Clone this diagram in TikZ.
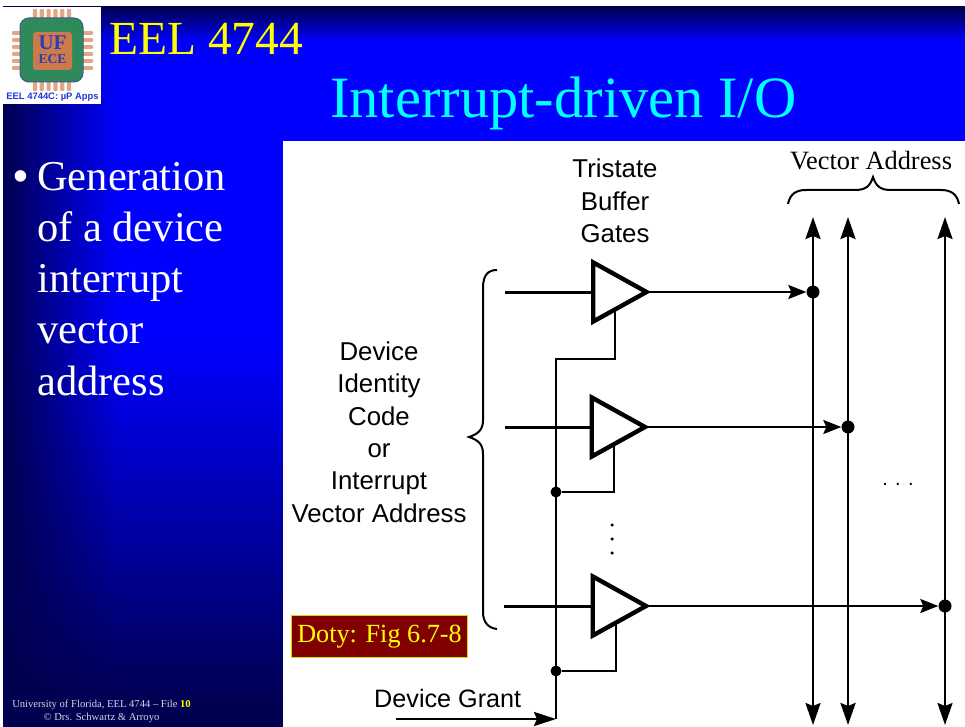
\documentclass[tikz,border=0pt]{standalone}
\usepackage{fontspec}
\setmainfont{Liberation Serif}
\newfontfamily\figfont{Liberation Sans}
\usetikzlibrary{shapes.geometric, arrows.meta, fadings}
\definecolor{slideNavy}{HTML}{000050}
\definecolor{slideBlue}{HTML}{0000FF}
\definecolor{titleCyan}{HTML}{00FFFF}
\definecolor{titleYellow}{HTML}{FFFF00}
\definecolor{footGray}{HTML}{D4D4E4}
\definecolor{tagRed}{HTML}{800000}
\definecolor{logoGreen}{HTML}{2F8A5B}
\definecolor{logoEdge}{HTML}{3D5C8C}
\definecolor{logoOrange}{HTML}{CC7A4C}
\definecolor{logoPin}{HTML}{E3A583}
\definecolor{logoBlue}{HTML}{2A3FB0}
\definecolor{logoText}{HTML}{1F35E0}

\begin{document}
\begin{tikzpicture}[
    x=1pt, y=-1pt,
    % Text Styles
    slideText/.style={
        font=\fontsize{42.5}{51.2}\selectfont,
        text=white,
        align=left,
        anchor=base west,
        inner sep=0pt
    },
    figLabel/.style={
        font=\fontsize{25.8}{32.4}\selectfont\figfont,
        align=center,
        inner sep=0pt
    },
    serifLabel/.style={
        font=\fontsize{26.4}{30}\selectfont,
        inner sep=0pt
    },
    % Gate and Wire Styles
    gate/.style={
        isosceles triangle,
        isosceles triangle apex angle=58,
        minimum height=53pt,
        minimum width=59pt,
        inner sep=0pt,
        outer sep=0pt,
        draw=black,
        fill=white,
        line width=4.4pt,
        line join=miter,
        anchor=apex
    },
    wire/.style={
        black,
        line width=2.6pt
    },
    output/.style={
        wire,
        line width=2.2pt,
        -{Stealth[length=18pt,width=14pt,inset=3pt]}
    },
    bus/.style={
        black,
        line width=2.4pt,
        {Stealth[length=22pt,width=15pt,inset=3pt]}-{Stealth[length=22pt,width=15pt,inset=3pt]}
    },
    brace/.style={
        black,
        line width=2pt
    },
    dot/.style={
        circle,
        fill=black,
        minimum size=13pt,
        inner sep=0pt
    },
    speck/.style={
        circle,
        fill=black,
        minimum size=3.5pt,
        inner sep=0pt
    },
    pin/.style={
        fill=logoPin,
        rounded corners=1pt
    }
]
    \useasboundingbox (0,0) rectangle (965,727);

    % --- SLIDE BACKGROUND ---
    \fill[slideBlue] (3,7) rectangle (965,141);
    \fill[slideBlue] (3,141) rectangle (283,340);
    \shade[top color=slideNavy, bottom color=slideBlue] (3,7) rectangle (965,42);
    \shade[top color=slideBlue, bottom color=slideNavy] (3,340) rectangle (283,705);
    \fill[slideNavy] (3,705) rectangle (283,727);
    \fill[slideNavy, path fading=east] (3,7) rectangle (118,727);
    \fill[white] (3,7) rectangle (101,104);

    % --- LOGO ---
    \foreach \px in {35,41.8,48.6,55.4,62.2,69} {
        \fill[pin] (\px-2.1,9) rectangle (\px+2.1,20);
        \fill[pin] (\px-2.1,80) rectangle (\px+2.1,91);
    }
    \foreach \py in {33,40,47,54,61,68} {
        \fill[pin] (12,\py-1.8) rectangle (22,\py+1.8);
        \fill[pin] (81,\py-1.8) rectangle (93,\py+1.8);
    }
    \filldraw[fill=logoGreen, draw=logoEdge, line width=1pt, rounded corners=9pt] (20,18) rectangle (83,82);
    \node[fill=logoOrange, rounded corners=3pt, minimum width=39pt, minimum height=38pt, inner sep=0pt] (chip) at (52.5,51) {};
    \node[font=\fontsize{21}{21}\bfseries\selectfont, text=logoBlue, inner sep=0pt] (chipUF) at (52.5,43) {UF};
    \node[font=\fontsize{13.6}{14}\bfseries\selectfont, text=logoBlue, inner sep=0pt] (chipECE) at (52.5,59) {ECE};
    \node[font=\fontsize{9.4}{10}\figfont\bfseries\selectfont, text=logoText, inner sep=0pt] (logoName) at (52.5,97) {EEL 4744C: µP Apps};

    % --- TITLES ---
    \node[font=\fontsize{47.5}{50}\selectfont, text=titleYellow, anchor=base west, inner sep=0pt] (course) at (109,55) {EEL 4744};
    \node[font=\fontsize{58.5}{60}\selectfont, text=titleCyan, anchor=base west, inner sep=0pt] (title) at (330,118) {Interrupt-driven I/O};

    % --- BULLET TEXT ---
    \node[slideText, font=\fontsize{42.5}{51}\selectfont\figfont] (bullet) at (13.5,191) {•};
    \node[slideText, anchor=north west] (body) at (37,162) {Generation\\of a device\\interrupt\\vector\\address};

    % --- FOOTER ---
    \node[font=\fontsize{10.6}{12}\selectfont, text=footGray, anchor=base, inner sep=0pt, align=center] (foot) at (101.5,707) {University of Florida, EEL 4744 -- File \textbf{\textcolor{titleYellow}{10}}};
    \node[font=\fontsize{10.6}{12}\selectfont, text=footGray, anchor=base, inner sep=0pt] (footB) at (101.5,720) {© Drs. Schwartz \& Arroyo};

    % --- FIGURE PANEL ---
    \fill[white] (283,141) rectangle (965,727);

    \node[figLabel] (tristate) at (615,201) {Tristate\\Buffer\\Gates};
    \node[figLabel] (device) at (379,432) {Device\\Identity\\Code\\or\\Interrupt\\Vector Address};
    \node[figLabel, font=\fontsize{25.2}{32.4}\selectfont\figfont, anchor=base west] (grant) at (374,707) {Device Grant};
    \node[serifLabel, anchor=base] (vector) at (871,170) {Vector Address};
    \node[figLabel, font=\fontsize{20}{24}\selectfont\figfont, anchor=base] (hdots) at (898,485) {. . .};

    % Doty tag
    \node[fill=tagRed, draw=titleYellow!85!black, line width=1.2pt, minimum width=176pt, minimum height=42pt, inner sep=0pt,
        font=\fontsize{26.2}{30}\selectfont, text=titleYellow] (doty) at (379.5,636.5) {Doty: Fig 6.7-8};

    % Coordinates for the inputs, enables and bus ends
    \coordinate (inA) at (505,292);
    \coordinate (inB) at (505,427);
    \coordinate (inC) at (504,606);
    \coordinate (enA) at (615,305);
    \coordinate (enB) at (614,440);
    \coordinate (enC) at (616,619);
    \coordinate (stepA) at (615,359);
    \coordinate (stepB) at (556,359);
    \coordinate (grantIn) at (396,719);
    \coordinate (grantEnd) at (556,719);
    \coordinate (busAtop) at (813,217);
    \coordinate (busBtop) at (848,217);
    \coordinate (busCtop) at (945,217);
    \coordinate (busAbot) at (813,725);
    \coordinate (busBbot) at (848,725);
    \coordinate (busCbot) at (945,725);

    % Bus lines and junctions
    \draw[bus] (busAtop) -- (busAbot);
    \draw[bus, line width=2.8pt] (busBtop) -- (busBbot);
    \draw[bus] (busCtop) -- (busCbot);
    \node[dot] (dotA) at (813,292) {};
    \node[dot] (dotB) at (848,427) {};
    \node[dot] (dotC) at (945,606) {};
    \node[dot, minimum size=11pt] (dotEnB) at (556,492) {};
    \node[dot, minimum size=11pt] (dotEnC) at (556,671) {};

    % Gates: wires go first so that the white fill covers them
    \draw[wire] (enA) -- (stepA) -- (stepB) -- (grantEnd);
    \draw[wire] (dotEnB) -| (enB);
    \draw[wire] (dotEnC) -| (enC);
    \draw[wire, line width=3pt] (inA) -- (596,292);
    \draw[wire, line width=3pt] (inB) -- (594,427);
    \draw[wire, line width=3pt] (inC) -- (595,606);

    \node[gate] (gateA) at (646.5,292) {};
    \node[gate] (gateB) at (645,427) {};
    \node[gate] (gateC) at (646,606) {};

    \draw[output] (gateA.apex) -- (dotA);
    \draw[output] (gateB.apex) -- (dotB);
    \draw[output] (gateC.apex) -- (dotC);
    \draw[wire, -{Stealth[length=22pt,width=14pt,inset=3pt]}] (grantIn) -- (grantEnd);

    % Vertical dots
    \foreach \py in {525,539,553} {
        \node[speck] at (612,\py) {};
    }

    % Braces
    \draw[brace] (497,270) .. controls (488,270) and (483,275) .. (483,288)
        -- (483,420) .. controls (483,430) and (478,434) .. (469,437)
        .. controls (478,440) and (483,444) .. (483,454)
        -- (483,612) .. controls (483,622) and (488,628) .. (497,629);
    \draw[brace] (788,204) .. controls (790,194) and (796,190) .. (806,190)
        -- (855,190) .. controls (866,190) and (870,186) .. (873,177)
        .. controls (876,186) and (880,190) .. (891,190)
        -- (941,190) .. controls (951,190) and (957,194) .. (959,204);

\end{tikzpicture}
\end{document}
